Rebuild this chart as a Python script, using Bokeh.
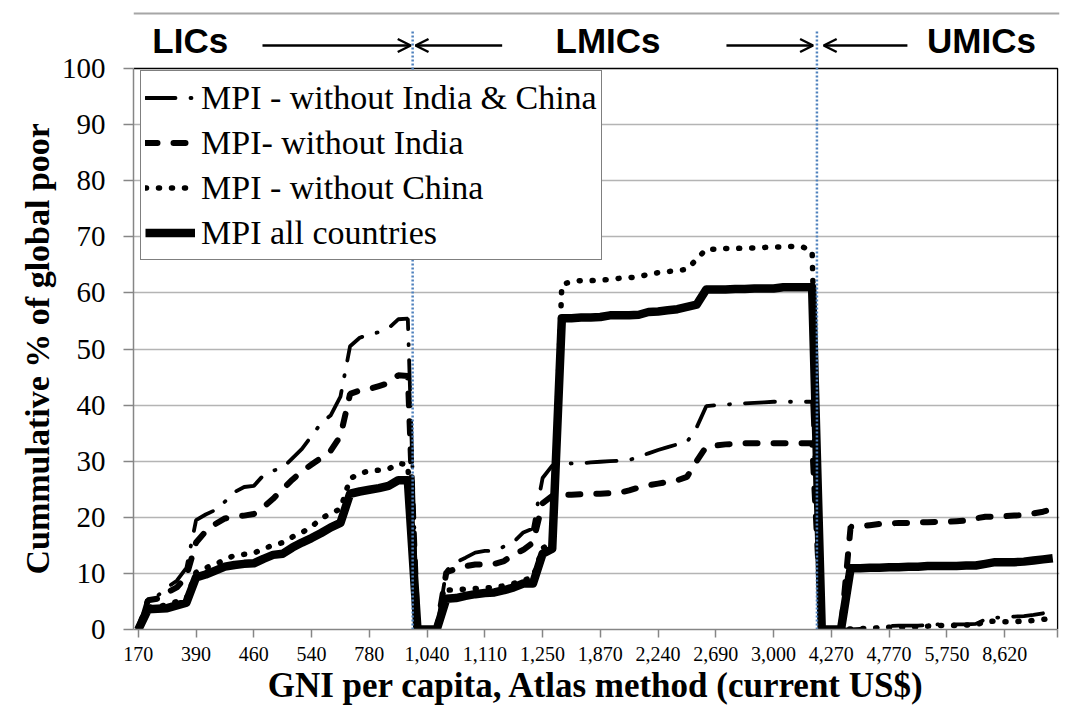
from bokeh.plotting import figure
from bokeh.models import (FixedTicker, Legend, LegendItem, Arrow, OpenHead, Range1d,
                          ColumnDataSource, Title)
from bokeh.embed import file_html
from bokeh.resources import INLINE
from bokeh.core.properties import value

# ---------------- data ----------------
# GNI per capita categories (sorted countries); only every 6th category is labelled
gni_tick_labels = ["170", "390", "460", "540", "780", "1,040", "1,110", "1,250",
                   "1,870", "2,240", "2,690", "3,000", "4,270", "4,770", "5,750", "8,620"]
label_every = 6
n_categories = 96

mpi_without_india_china = [
    0, 5.8, 6.0, 7.5, 8.7, 11.0, 19.5, 20.5, 21.3, 22.8, 24.5, 25.4, 25.6, 27.5, 28.3, 28.8,
    30.5, 32.2, 34.5, 36.8, 38.2, 41.5, 50.5, 52.0, 52.6, 53.0, 53.7, 55.3, 55.4,
    0, 0, 0,
    10.5, 12.0, 12.8, 13.7, 14.0, 14.0, 14.8, 15.6, 17.3, 18.0, 27.0, 29.2, 29.5, 29.6, 29.6,
    29.8, 29.9, 30.0, 30.1, 30.2, 30.8, 31.4, 32.0, 32.5, 33.0, 33.4, 36.0, 39.8, 40.0, 40.1,
    40.2, 40.3, 40.4, 40.5, 40.6, 40.6, 40.6, 40.6, 40.6,
    0, 0, 0,
    0.0, 0.1, 0.2, 0.4, 0.6, 0.7, 0.7, 0.7, 0.8, 0.9, 0.9, 0.9, 0.9, 1.0, 1.8, 2.1, 2.2, 2.3,
    2.4, 2.6, 2.9, 3.2]

mpi_without_india = [
    0, 5.2, 5.5, 6.6, 7.5, 9.5, 15.5, 17.5, 18.8, 19.8, 20.1, 20.3, 20.6, 21.8, 23.3, 25.0,
    26.7, 28.2, 29.4, 30.6, 31.9, 34.5, 42.0, 42.6, 42.9, 43.4, 43.9, 45.3, 45.2,
    0, 0, 0,
    10.2, 10.8, 11.3, 11.6, 11.6, 11.7, 12.2, 13.4, 14.2, 15.5, 22.5, 23.8, 24.0, 24.0, 24.1,
    24.2, 24.2, 24.3, 24.4, 24.8, 25.3, 25.7, 26.0, 26.3, 26.6, 27.2, 30.0, 32.6, 32.8, 33.0,
    33.1, 33.2, 33.2, 33.2, 33.2, 33.2, 33.2, 33.2, 33.2,
    0, 0, 0,
    18.3, 18.4, 18.6, 18.8, 18.9, 19.0, 19.0, 19.1, 19.1, 19.2, 19.2, 19.3, 19.4, 19.8, 20.1,
    20.1, 20.2, 20.3, 20.4, 20.7, 21.0, 21.5]

mpi_without_china = [
    0, 4.0, 4.1, 4.4, 5.0, 5.6, 10.2, 11.0, 11.6, 12.5, 13.2, 13.4, 13.6, 14.4, 15.0, 15.5,
    16.5, 17.3, 18.3, 19.8, 20.7, 21.5, 26.9, 27.8, 28.3, 28.4, 28.6, 29.6, 29.4,
    0, 0, 0,
    7.0, 7.1, 7.2, 7.3, 7.4, 7.5, 7.8, 8.2, 8.8, 9.3, 14.5, 15.5, 61.5, 62.0, 62.2, 62.2,
    62.3, 62.4, 62.6, 62.7, 62.9, 63.3, 63.6, 63.8, 64.0, 64.2, 66.0, 67.8, 67.8, 67.9, 67.9,
    68.0, 68.0, 68.1, 68.2, 68.2, 68.3, 68.2, 67.5,
    0, 0, 0,
    0.1, 0.2, 0.2, 0.3, 0.4, 0.4, 0.4, 0.5, 0.6, 0.7, 0.7, 0.7, 0.8, 0.8, 1.4, 1.5, 1.4, 1.4,
    1.5, 1.6, 1.8, 2.0]

mpi_all_countries = [
    0, 3.6, 3.7, 3.8, 4.3, 4.8, 9.3, 9.8, 10.5, 11.2, 11.5, 11.7, 11.8, 12.6, 13.3, 13.5,
    14.6, 15.5, 16.3, 17.2, 18.2, 19.0, 24.2, 24.6, 24.9, 25.2, 25.6, 26.6, 26.6,
    0, 0, 0,
    5.5, 5.6, 6.0, 6.3, 6.5, 6.6, 7.0, 7.5, 8.2, 8.2, 13.5, 14.4, 55.5, 55.5, 55.6, 55.6,
    55.7, 56.0, 56.0, 56.0, 56.1, 56.6, 56.7, 56.9, 57.1, 57.5, 57.9, 60.6, 60.6, 60.6, 60.7,
    60.7, 60.8, 60.8, 60.8, 61.0, 61.0, 61.0, 61.0,
    0, 0, 0,
    10.9, 10.9, 11.0, 11.0, 11.1, 11.1, 11.2, 11.2, 11.3, 11.3, 11.3, 11.3, 11.4, 11.4, 11.7,
    12.0, 12.0, 12.0, 12.1, 12.3, 12.5, 12.7]

series_names = ["MPI - without India & China", "MPI- without India",
                "MPI - without China", "MPI all countries"]
series_values = [mpi_without_india_china, mpi_without_india, mpi_without_china, mpi_all_countries]

# income group boundaries (between categories)
group_boundaries = [28.5, 70.5]
group_names = ["LICs", "LMICs", "UMICs"]

# ---------------- layout / styles ----------------
W, H = 1076, 709
PLOT_BOTTOM_PX = 629
PX_PER_UNIT = 5.61
FRAME_TOP_PX = 8


def y_at(px):
    """value-axis position of a pixel row (for annotations above the plot area)"""
    return (PLOT_BOTTOM_PX - px) / PX_PER_UNIT


x_idx = list(range(n_categories))
tick_pos = [i * label_every for i in range(len(gni_tick_labels))]

p = figure(width=W, height=H, output_backend="svg", toolbar_location=None,
           x_range=Range1d(-0.5, 95.7), y_range=Range1d(0, y_at(FRAME_TOP_PX)),
           min_border_left=133, min_border_right=17, min_border_top=FRAME_TOP_PX,
           min_border_bottom=H - PLOT_BOTTOM_PX)
p.outline_line_color = None
p.background_fill_color = "white"
p.border_fill_color = "white"

# x axis
p.xaxis.ticker = FixedTicker(ticks=tick_pos + [95.5])
overrides = {pos: lab for pos, lab in zip(tick_pos, gni_tick_labels)}
overrides[95.5] = ""
p.xaxis.major_label_overrides = overrides
p.xaxis.bounds = (-0.5, 95.5)
p.xaxis.axis_line_color = "#868686"
p.xaxis.axis_line_width = 1.5
p.xaxis.major_tick_line_color = "#868686"
p.xaxis.major_tick_line_width = 1.5
p.xaxis.major_tick_out = 8
p.xaxis.major_tick_in = 0
p.xaxis.minor_tick_line_color = None
p.xaxis.major_label_text_font = "Liberation Serif"
p.xaxis.major_label_text_font_size = "20px"
p.xaxis.major_label_text_color = "black"
p.xaxis.major_label_standoff = 9
p.xaxis.axis_label = "GNI per capita, Atlas method (current US$)"
p.xaxis.axis_label_text_font = "Liberation Serif"
p.xaxis.axis_label_text_font_size = "35px"
p.xaxis.axis_label_text_font_style = "bold"
p.xaxis.axis_label_text_color = "black"
p.xaxis.axis_label_standoff = 2

# y axis
p.yaxis.ticker = FixedTicker(ticks=list(range(0, 101, 10)))
p.yaxis.bounds = (0, 100)
p.yaxis.axis_line_color = "#868686"
p.yaxis.axis_line_width = 1.5
p.yaxis.major_tick_line_color = "#868686"
p.yaxis.major_tick_line_width = 1.5
p.yaxis.major_tick_out = 10
p.yaxis.major_tick_in = 0
p.yaxis.minor_tick_line_color = None
p.yaxis.major_label_text_font = "Liberation Serif"
p.yaxis.major_label_text_font_size = "29px"
p.yaxis.major_label_text_color = "black"
p.yaxis.major_label_standoff = 18

# y-axis title, centred on the 0-100 plot area rather than the whole frame
ytitle = Title(text="Cummulative % of  global poor", align="left", offset=55, standoff=6,
               text_font="Liberation Serif", text_font_size="34px",
               text_font_style="bold", text_color="black")
p.add_layout(ytitle, "left")

p.xgrid.visible = False
p.ygrid.ticker = FixedTicker(ticks=list(range(10, 100, 10)))
p.ygrid.grid_line_color = "#b4b4b4"
p.ygrid.grid_line_width = 1.3

# outer chart-area border (top edge) and plot-area border (top and right edges)
p.line(x=[-0.5, 95.7], y=[y_at(13)] * 2, line_color="#a6a6a6", line_width=2)
p.line(x=[-0.5, 95.5, 95.5], y=[100, 100, 0], line_color="black", line_width=1.3)

styles = [
    dict(line_width=3.8, line_dash="30 15 1 15", line_cap="round"),
    dict(line_width=6, line_dash="12 16", line_cap="round"),
    dict(line_width=5.5, line_dash="1 12", line_cap="round"),
    dict(line_width=8.5, line_join="round"),
]
items = []
for name, vals, st in zip(series_names, series_values, styles):
    src = ColumnDataSource(dict(x=x_idx, y=vals))
    r = p.line("x", "y", source=src, line_color="black", **st)
    items.append(LegendItem(label=name, renderers=[r]))

# group boundaries (blue dotted), reaching up into the header
p.segment(x0=group_boundaries, y0=[0, 0], x1=group_boundaries, y1=[y_at(30)] * 2,
          line_color="#4F81BD", line_width=2.5, line_dash="2 2")

# group names and arrows above the plot area
group_label_x = [5.4, 48.8, 87.6]
p.text(x=group_label_x, y=[y_at(40)] * 3, text=group_names,
       text_font=value("Liberation Sans"), text_font_style="bold", text_font_size="35px",
       text_align="center", text_baseline="middle", text_color="black")

arrow_spans = [(12.9, 28.3), (37.8, 28.8), (61.1, 70.1), (79.9, 71.2)]
for xs, xe in arrow_spans:
    p.add_layout(Arrow(end=OpenHead(size=13, line_width=2.5, line_color="black"),
                       x_start=xs, y_start=y_at(45), x_end=xe, y_end=y_at(45),
                       line_width=2.5, line_color="black"))

legend = Legend(items=items, location=(7, PLOT_BOTTOM_PX - 260), orientation="vertical")
legend.label_text_font = "Liberation Serif"
legend.label_text_font_size = "34px"
legend.label_text_color = "black"
legend.glyph_width = 50
legend.glyph_height = 45
legend.label_height = 45
legend.label_standoff = 6
legend.spacing = 0
legend.padding = 4
legend.margin = 0
legend.border_line_color = "black"
legend.border_line_width = 1.2
legend.background_fill_color = "white"
legend.background_fill_alpha = 1.0
p.add_layout(legend)

open("out.html", "w").write(file_html(p, INLINE))
